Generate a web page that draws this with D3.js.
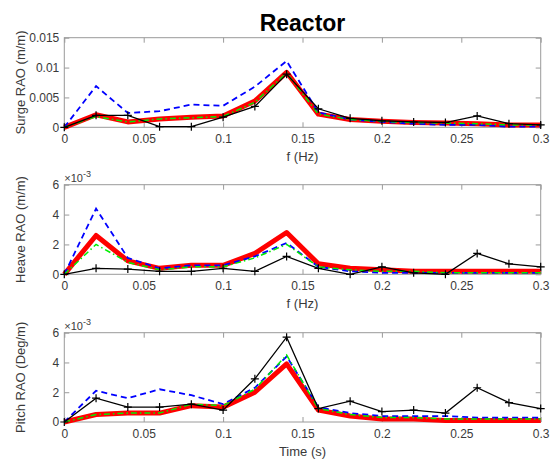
<!DOCTYPE html>
<html>
<head>
<meta charset="utf-8">
<script src="https://cdn.jsdelivr.net/npm/d3@7"></script>
<style>
  html, body { margin: 0; padding: 0; background: #fff; }
  svg { display: block; font-family: "Liberation Sans", Arial, sans-serif; }
</style>
</head>
<body>
<div id="chart"></div>
<script>
// frequency points (Hz)
const freq = [0, 0.02, 0.04, 0.06, 0.08, 0.1, 0.12, 0.14, 0.16, 0.18, 0.2, 0.22, 0.24, 0.26, 0.28, 0.3];

// surge RAO (m/m)
const surgeRed   = [0, 0.0021, 0.0009, 0.0014, 0.0017, 0.0019, 0.0044, 0.0092, 0.0022, 0.0013, 0.0010, 0.0008, 0.0007, 0.0006, 0.0004, 0.0004];
const surgeGreen = [0, 0.0018, 0.0009, 0.0014, 0.0016, 0.0018, 0.0042, 0.0091, 0.0022, 0.0013, 0.0010, 0.0008, 0.0007, 0.0006, 0.0004, 0.0004];
const surgeBlue  = [0, 0.0069, 0.0024, 0.0027, 0.0038, 0.0036, 0.0068, 0.0111, 0.0025, 0.0013, 0.0009, 0.0006, 0.0004, 0.0004, 0.0001, 0.0001];
const surgeBlack = [0, 0.0020, 0.0020, 0.0001, 0.0001, 0.0017, 0.0035, 0.0089, 0.0031, 0.0015, 0.0011, 0.0009, 0.0008, 0.0019, 0.0006, 0.0004];

// heave RAO (m/m)
const heaveRed   = [0, 0.0026, 0.0009, 0.0004, 0.0006, 0.0006, 0.0014, 0.0028, 0.0007, 0.0004, 0.0003, 0.0002, 0.0002, 0.0002, 0.0002, 0.0002];
const heaveGreen = [0, 0.0020, 0.0008, 0.0003, 0.0005, 0.0005, 0.0011, 0.0020, 0.0005, 0.0003, 0.0002, 0.0002, 0.0001, 0.0001, 0.0001, 0.0001];
const heaveBlue  = [0, 0.0044, 0.0011, 0.0004, 0.0006, 0.0006, 0.0012, 0.0021, 0.0005, 0.0002, 0.0001, 0.0001, 0.0001, 0.0001, 0.0001, 0.0001];
const heaveBlack = [0, 0.0004, 0.00035, 0.0002, 0.0002, 0.0004, 0.0002, 0.0012, 0.0004, 0.0000, 0.0005, 0.0001, 0.0000, 0.0014, 0.0007, 0.0005];

// pitch RAO (Deg/m)
const pitchRed   = [0, 0.0005, 0.0006, 0.0006, 0.0011, 0.0010, 0.0020, 0.0039, 0.0008, 0.0004, 0.0002, 0.0002, 0.0001, 0.0001, 0.0001, 0.0001];
const pitchGreen = [0, 0.0005, 0.0006, 0.0006, 0.0012, 0.0011, 0.0022, 0.0045, 0.0009, 0.0005, 0.0003, 0.0003, 0.0002, 0.0002, 0.0002, 0.0002];
const pitchBlue  = [0, 0.0021, 0.0016, 0.0022, 0.0018, 0.0012, 0.0023, 0.0044, 0.0010, 0.0006, 0.0004, 0.0004, 0.0004, 0.0003, 0.0003, 0.0003];
const pitchBlack = [0, 0.0016, 0.0010, 0.0010, 0.0012, 0.0008, 0.0029, 0.0057, 0.0009, 0.0014, 0.0007, 0.0008, 0.0006, 0.0023, 0.0013, 0.0009];

// ticks
const xTicks = [0, 0.05, 0.1, 0.15, 0.2, 0.25, 0.3];
const xTickLabels = ['0', '0.05', '0.1', '0.15', '0.2', '0.25', '0.3'];
const surgeTicks = [0, 0.005, 0.01, 0.015];
const surgeTickLabels = ['0', '0.005', '0.01', '0.015'];
const milliTicks = [0, 0.002, 0.004, 0.006];
const milliTickLabels = ['0', '2', '4', '6'];

const width = 559, height = 465;
const left = 64.3, right = 540.7;

const svg = d3.select('#chart').append('svg')
  .attr('width', width)
  .attr('height', height);

svg.append('text')
  .attr('x', (left + right) / 2)
  .attr('y', 31)
  .attr('text-anchor', 'middle')
  .style('font-size', '23px')
  .style('font-weight', 'bold')
  .style('fill', '#000')
  .text('Reactor');

const x = d3.scaleLinear().domain([0, 0.3]).range([left, right]);

const panels = [
  { top: 37.7, bottom: 127.3, max: 0.015, ticks: surgeTicks, labels: surgeTickLabels, ylabel: 'Surge RAO (m/m)', xlabel: 'f (Hz)', exp: false,
    red: surgeRed, green: surgeGreen, blue: surgeBlue, black: surgeBlack },
  { top: 184.7, bottom: 274.3, max: 0.006, ticks: milliTicks, labels: milliTickLabels, ylabel: 'Heave RAO (m/m)', xlabel: 'f (Hz)', exp: true,
    red: heaveRed, green: heaveGreen, blue: heaveBlue, black: heaveBlack },
  { top: 332.7, bottom: 422, max: 0.006, ticks: milliTicks, labels: milliTickLabels, ylabel: 'Pitch RAO (Deg/m)', xlabel: 'Time (s)', exp: true,
    red: pitchRed, green: pitchGreen, blue: pitchBlue, black: pitchBlack }
];

panels.forEach(p => {
  const y = d3.scaleLinear().domain([0, p.max]).range([p.bottom, p.top]);
  const g = svg.append('g');
  const boxColor = '#9a9a9a';
  const txtColor = '#3a3a3a';

  // 坐标轴 (ticks inside, box on)
  const axB = g.append('g').attr('transform', `translate(0,${p.bottom})`)
    .call(d3.axisBottom(x).tickValues(xTicks).tickSizeInner(-5).tickSizeOuter(0).tickPadding(7)
      .tickFormat((d, i) => xTickLabels[i]));
  const axT = g.append('g').attr('transform', `translate(0,${p.top})`)
    .call(d3.axisTop(x).tickValues(xTicks).tickSizeInner(-5).tickSizeOuter(0).tickFormat(''));
  const axL = g.append('g').attr('transform', `translate(${left},0)`)
    .call(d3.axisLeft(y).tickValues(p.ticks).tickSizeInner(-5).tickSizeOuter(0).tickPadding(5)
      .tickFormat((d, i) => p.labels[i]));
  const axR = g.append('g').attr('transform', `translate(${right},0)`)
    .call(d3.axisRight(y).tickValues(p.ticks).tickSizeInner(-5).tickSizeOuter(0).tickFormat(''));
  [axB, axT, axL, axR].forEach(a => {
    a.select('.domain').remove();
    a.selectAll('line').attr('stroke', boxColor);
    a.selectAll('text').style('font-size', '12px').style('fill', txtColor)
      .style('font-family', '"Liberation Sans", Arial, sans-serif');
  });
  g.append('rect')
    .attr('x', left).attr('y', p.top)
    .attr('width', right - left).attr('height', p.bottom - p.top)
    .attr('fill', 'none').attr('stroke', boxColor).attr('stroke-width', 1);

  // 轴标签
  g.append('text')
    .attr('transform', `translate(20,${(p.top + p.bottom) / 2}) rotate(-90)`)
    .attr('text-anchor', 'middle')
    .attr('dy', '0.35em')
    .style('font-size', '13px')
    .style('fill', txtColor)
    .text(p.ylabel);
  g.append('text')
    .attr('x', (left + right) / 2)
    .attr('y', p.bottom + 34)
    .attr('text-anchor', 'middle')
    .style('font-size', '13px')
    .style('fill', txtColor)
    .text(p.xlabel);

  if (p.exp) {
    const t = g.append('text')
      .attr('x', left)
      .attr('y', p.top - 3)
      .style('font-size', '11px')
      .style('fill', txtColor);
    t.append('tspan').text('\u00d710');
    t.append('tspan').attr('dy', -5).style('font-size', '9px').text('-3');
  }

  const line = d3.line().x((d, i) => x(freq[i])).y(d => y(d));

  g.append('path').datum(p.red)
    .attr('d', line).attr('fill', 'none')
    .attr('stroke', '#ff0000').attr('stroke-width', 5).attr('stroke-linejoin', 'round');
  g.append('path').datum(p.blue)
    .attr('d', line).attr('fill', 'none')
    .attr('stroke', '#0000ff').attr('stroke-width', 1.8).attr('stroke-dasharray', '6,4');
  g.append('path').datum(p.green)
    .attr('d', line).attr('fill', 'none')
    .attr('stroke', '#00ee00').attr('stroke-width', 1.5).attr('stroke-dasharray', '6,3,1.5,3');
  g.append('path').datum(p.black)
    .attr('d', line).attr('fill', 'none')
    .attr('stroke', '#000').attr('stroke-width', 1.3);

  // + 标记
  const plus = d3.symbol().type(d3.symbolCross);
  g.selectAll('.mk').data(p.black).enter().append('path')
    .attr('class', 'mk')
    .attr('transform', (d, i) => `translate(${x(freq[i])},${y(d)})`)
    .attr('d', 'M-4,0H4M0,-4V4')
    .attr('stroke', '#000').attr('stroke-width', 1.2).attr('fill', 'none');
});
</script>
</body>
</html>
